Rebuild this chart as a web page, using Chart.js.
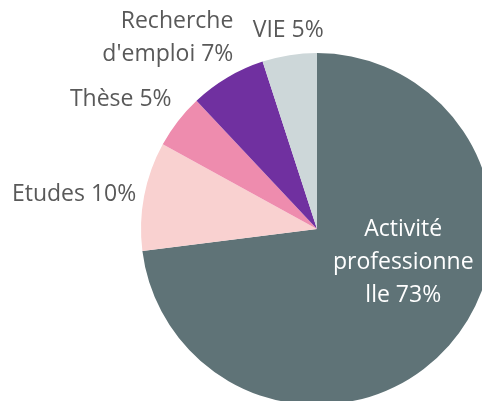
<!DOCTYPE html>
<html>
<head>
<meta charset="utf-8">
<script src="https://cdn.jsdelivr.net/npm/chart.js@4"></script>
<style>
  html, body { margin: 0; padding: 0; background: #fff; overflow: hidden; }
  #wrap { position: absolute; left: 0; top: 0; width: 482px; height: 401px; overflow: hidden; }
</style>
</head>
<body>
<div id="wrap"><canvas id="myChart" width="700" height="480"></canvas></div>
<script>
// data
const categories = ["Activité professionnelle", "Etudes", "Thèse", "Recherche d'emploi", "VIE"];
const percents = [73, 10, 5, 7, 5];
// data labels as they wrap in the picture
const labelLines = [
  ["Activité", "professionne", "lle 73%"],
  ["Etudes 10%"],
  ["Thèse 5%"],
  ["Recherche", "d'emploi 7%"],
  ["VIE 5%"]
];
const colors = ["#5f7377", "#f9d1d0", "#ee8cae", "#7030a0", "#cdd7d9"];

const FONT = "23px 'Open Sans'";
const LINE_H = 33;

// draws the Excel-like data labels from each arc's geometry
const pieLabels = {
  id: "pieLabels",
  afterDatasetsDraw(chart) {
    const ctx = chart.ctx;
    const arcs = chart.getDatasetMeta(0).data;
    ctx.save();
    ctx.font = FONT;
    ctx.textBaseline = "middle";
    arcs.forEach((arc, i) => {
      const lines = labelLines[i];
      const r = arc.outerRadius;
      const h = lines.length * LINE_H;
      if (i === 0) {
        // big slice: label inside, white
        ctx.fillStyle = "#ffffff";
        ctx.textAlign = "center";
        const cx = arc.x + r * 0.49;
        const cy = arc.y + r * 0.19;
        lines.forEach((t, k) => {
          ctx.fillText(t, cx, cy - h / 2 + LINE_H / 2 + k * LINE_H);
        });
        return;
      }
      const mid = (arc.startAngle + arc.endAngle) / 2;
      const cos = Math.cos(mid), sin = Math.sin(mid);
      let ax = arc.x + cos * (r + 8);
      const ay = arc.y + sin * (r + 8);
      // labels on a diagonal sit a little closer to the vertical
      if (cos > -0.6 && cos < -0.3) ax += 10;
      ctx.fillStyle = "#595959";
      ctx.textAlign = cos < -0.3 ? "right" : (cos > 0.3 ? "left" : "center");
      let top;
      if (sin < -0.3) top = ay - h;
      else if (sin > 0.3) top = ay;
      else top = ay - h / 2;
      lines.forEach((t, k) => {
        ctx.fillText(t, ax, top + LINE_H / 2 + k * LINE_H);
      });
    });
    ctx.restore();
  }
};

const ctx = document.getElementById("myChart");

const chart = new Chart(ctx, {
  type: "pie",
  data: {
    labels: categories,
    datasets: [
      {
        data: percents,
        backgroundColor: colors,
        borderWidth: 0,
      },
    ],
  },
  options: {
    responsive: false,
    animation: false,
    layout: {
      padding: { left: 141, top: 53, right: 207, bottom: 75 },
    },
    plugins: {
      legend: { display: false },
      tooltip: { enabled: false },
    },
  },
  plugins: [pieLabels],
});
</script>
</body>
</html>
